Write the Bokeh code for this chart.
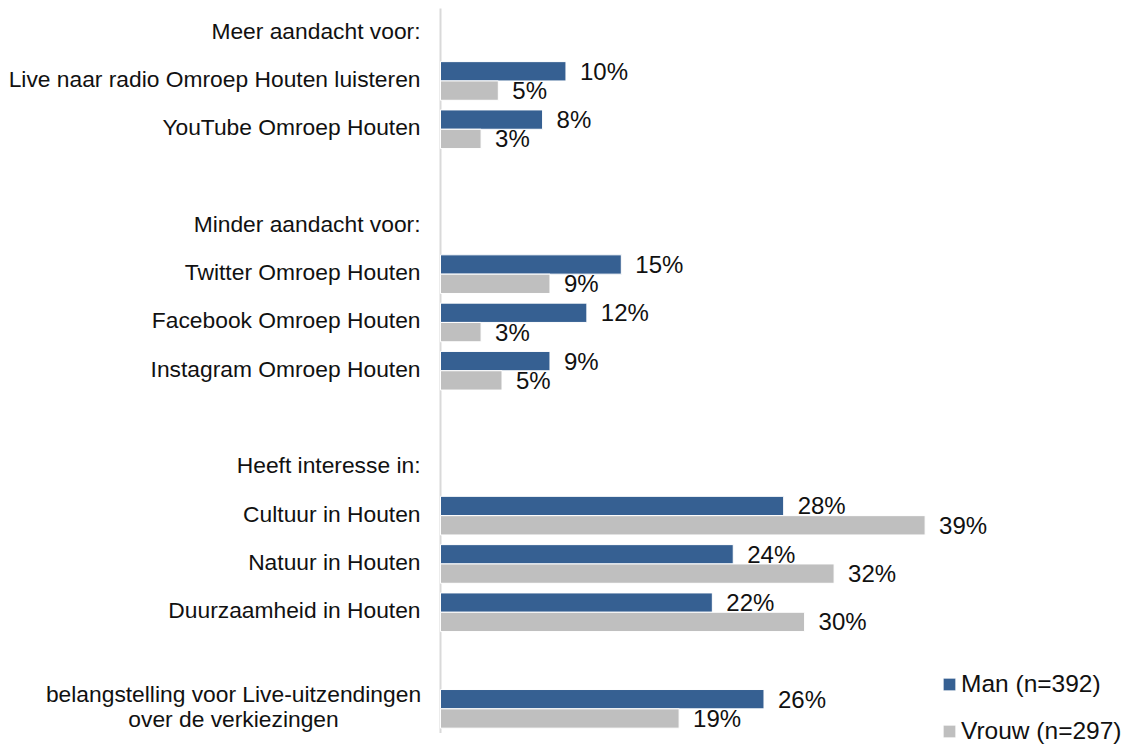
from bokeh.plotting import figure
from bokeh.models import ColumnDataSource, Range1d, Legend, LegendItem
from bokeh.core.properties import value
from bokeh.embed import file_html
from bokeh.resources import INLINE

categories = [
    "Meer aandacht voor:",
    "Live naar radio Omroep Houten luisteren",
    "YouTube Omroep Houten",
    "",
    "Minder aandacht voor:",
    "Twitter Omroep Houten",
    "Facebook Omroep Houten",
    "Instagram Omroep Houten",
    "",
    "Heeft interesse in:",
    "Cultuur in Houten",
    "Natuur in Houten",
    "Duurzaamheid in Houten",
    "",
    "belangstelling voor Live-uitzendingen\nover de verkiezingen",
]
man = [None, 10.2, 8.3, None, None, 14.7, 11.9, 8.9, None, None, 27.9, 23.8, 22.1, None, 26.3]
vrouw = [None, 4.7, 3.3, None, None, 8.9, 3.3, 5.0, None, None, 39.4, 32.0, 29.6, None, 19.4]
series_names = ["Man (n=392)", "Vrouw (n=297)"]
colors = ["#366092", "#BFBFBF"]

FONT = "Liberation Sans"
TEXT_COLOR = "#111111"
W, H = 1135, 745
AXIS_PX = 440
PX_PER_UNIT = 12.3
ROW_PX = 48.3
TOP_PX = 8

y_top = -0.5 - TOP_PX / ROW_PX
p = figure(width=W, height=H, output_backend="svg", toolbar_location=None,
           x_range=Range1d(-AXIS_PX / PX_PER_UNIT, (W - AXIS_PX) / PX_PER_UNIT),
           y_range=Range1d(y_top + H / ROW_PX, y_top),
           min_border=0)
p.axis.visible = False
p.grid.visible = False
p.outline_line_color = None
p.background_fill_color = "white"

rows = list(range(len(categories)))

# axis line
p.segment(x0=[0], y0=[-0.5], x1=[0], y1=[len(categories) - 0.5],
          line_color="#D9D9D9", line_width=2)

# category labels
single = [(r, c) for r, c in zip(rows, categories) if c and "\n" not in c]
lab_src = ColumnDataSource(dict(y=[r for r, _ in single], x=[0] * len(single), t=[c for _, c in single]))
p.text(x="x", y="y", text="t", source=lab_src, x_offset=-20, y_offset=-2, text_align="right",
       text_baseline="middle", text_font=value(FONT), text_font_size="22.8px", text_color=TEXT_COLOR)

multi = [(r, c) for r, c in zip(rows, categories) if "\n" in c]
for r, c in multi:
    lines = c.split("\n")
    n = len(lines)
    src = ColumnDataSource(dict(y=[r] * n, x=[0] * n, t=lines,
                                yo=[(i - (n - 1) / 2) * 25 - 2 for i in range(n)]))
    p.text(x="x", y="y", text="t", source=src, x_offset=-20 - 187, y_offset="yo",
           text_align="center", text_baseline="middle", text_font=value(FONT),
           text_font_size="22.8px", text_color=TEXT_COLOR)

legend_items = []
for k, (vals, col, name) in enumerate(zip([man, vrouw], colors, series_names)):
    ys = [r + (-0.2 if k == 0 else 0.2) for r, v in zip(rows, vals) if v is not None]
    vs = [v for v in vals if v is not None]
    src = ColumnDataSource(dict(y=ys, v=vs, lbl=["%d%%" % round(v) for v in vs]))
    rend = p.hbar(y="y", left=0, right="v", height=0.4, source=src, fill_color=col,
                  line_color="white", line_width=1)
    p.text(x="v", y="y", text="lbl", source=src, x_offset=14, y_offset=0,
           text_align="left", text_baseline="middle", text_font=value(FONT),
           text_font_size="24px", text_color=TEXT_COLOR)
    legend_items.append(LegendItem(label=name, renderers=[rend]))

legend = Legend(items=legend_items, location=(941, 0), orientation="vertical",
                background_fill_alpha=0, border_line_color=None,
                label_text_font=FONT, label_text_font_size="24.5px", label_text_color=TEXT_COLOR,
                glyph_width=16, glyph_height=16, label_standoff=4, spacing=19,
                padding=0, margin=0, label_height=20)
p.add_layout(legend)

open("out.html", "w").write(file_html(p, INLINE))
